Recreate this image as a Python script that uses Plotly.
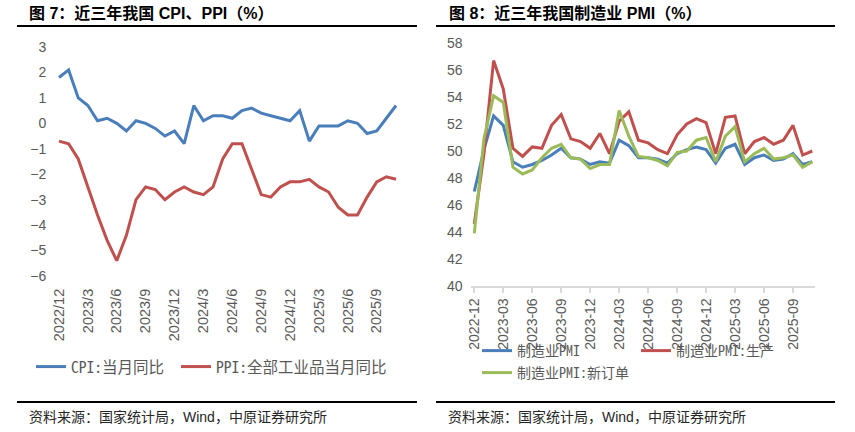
import plotly.graph_objects as go

W, H = 855, 432

months = ["2022-12", "2023-01", "2023-02", "2023-03", "2023-04", "2023-05", "2023-06",
          "2023-07", "2023-08", "2023-09", "2023-10", "2023-11", "2023-12",
          "2024-01", "2024-02", "2024-03", "2024-04", "2024-05", "2024-06",
          "2024-07", "2024-08", "2024-09", "2024-10", "2024-11", "2024-12",
          "2025-01", "2025-02", "2025-03", "2025-04", "2025-05", "2025-06",
          "2025-07", "2025-08", "2025-09", "2025-10", "2025-11"]

cpi = [1.8, 2.1, 1.0, 0.7, 0.1, 0.2, 0.0, -0.3, 0.1, 0.0, -0.2, -0.5, -0.3,
       -0.8, 0.7, 0.1, 0.3, 0.3, 0.2, 0.5, 0.6, 0.4, 0.3, 0.2, 0.1,
       0.5, -0.7, -0.1, -0.1, -0.1, 0.1, 0.0, -0.4, -0.3, 0.2, 0.7]
ppi = [-0.7, -0.8, -1.4, -2.5, -3.6, -4.6, -5.4, -4.4, -3.0, -2.5, -2.6, -3.0, -2.7,
       -2.5, -2.7, -2.8, -2.5, -1.4, -0.8, -0.8, -1.8, -2.8, -2.9, -2.5, -2.3,
       -2.3, -2.2, -2.5, -2.7, -3.3, -3.6, -3.6, -2.9, -2.3, -2.1, -2.2]

pmi = [47.0, 50.1, 52.6, 51.9, 49.2, 48.8, 49.0, 49.3, 49.7, 50.2, 49.5, 49.4, 49.0,
       49.2, 49.1, 50.8, 50.4, 49.5, 49.5, 49.4, 49.1, 49.8, 50.1, 50.3, 50.1,
       49.1, 50.2, 50.5, 49.0, 49.5, 49.7, 49.3, 49.4, 49.8, 49.0, 49.2]
pmi_prod = [44.6, 49.8, 56.7, 54.6, 50.2, 49.6, 50.3, 50.2, 51.9, 52.7, 50.9, 50.7, 50.2,
            51.3, 49.8, 52.2, 52.9, 50.8, 50.6, 50.1, 49.8, 51.2, 52.0, 52.4, 52.1,
            49.8, 52.5, 52.6, 49.8, 50.7, 51.0, 50.5, 50.8, 51.9, 49.7, 50.0]
pmi_new = [43.9, 50.9, 54.1, 53.6, 48.8, 48.3, 48.6, 49.5, 50.2, 50.5, 49.5, 49.4, 48.7,
           49.0, 49.0, 53.0, 51.1, 49.6, 49.5, 49.3, 48.9, 49.9, 50.0, 50.8, 51.0,
           49.2, 51.1, 51.8, 49.2, 49.8, 50.2, 49.4, 49.5, 49.7, 48.8, 49.2]

tick_months = ["2022-12", "2023-03", "2023-06", "2023-09", "2023-12", "2024-03",
               "2024-06", "2024-09", "2024-12", "2025-03", "2025-06", "2025-09"]
left_ticktext = ["2022/12", "2023/3", "2023/6", "2023/9", "2023/12", "2024/3",
                 "2024/6", "2024/9", "2024/12", "2025/3", "2025/6", "2025/9"]
right_ticktext = ["2022-12", "2023-03", "2023-06", "2023-09", "2023-12", "2024-03",
                  "2024-06", "2024-09", "2024-12", "2025-03", "2025-06", "2025-09"]

left_title = "图 7：近三年我国 CPI、PPI（%）"
right_title = "图 8：近三年我国制造业 PMI（%）"
source_text = "资料来源：国家统计局，Wind，中原证券研究所"

BLUE = "#4a7ebb"
RED = "#c0504d"
GREEN = "#9bbb59"
GRAY = "#595959"
AXIS = "#d9d9d9"

TICK_FONT = dict(family="Liberation Sans, Arial, sans-serif", size=14, color=GRAY)
LEG_FAMILY = "Noto Sans Mono CJK SC, Noto Sans CJK SC, monospace"


def px(x):
    return x / W


def py(y):
    return 1 - y / H


n = len(months)
pad = 0.3
L_dom = [px(56.1), px(398.9)]
L_ydom = [py(276), py(47)]
R_dom = [px(471.4), px(815.2)]
R_ydom = [py(286), py(43)]
xr = [-pad, n - 1 + pad]

fig = go.Figure()

fig.add_trace(go.Scatter(x=months, y=cpi, mode="lines", name="CPI:当月同比",
                         line=dict(color=BLUE, width=3), xaxis="x", yaxis="y",
                         legend="legend"))
fig.add_trace(go.Scatter(x=months, y=ppi, mode="lines", name="PPI:全部工业品当月同比",
                         line=dict(color=RED, width=3), xaxis="x", yaxis="y",
                         legend="legend2"))
fig.add_trace(go.Scatter(x=months, y=pmi, mode="lines", name="制造业PMI",
                         line=dict(color=BLUE, width=3), xaxis="x2", yaxis="y2",
                         legend="legend3"))
fig.add_trace(go.Scatter(x=months, y=pmi_prod, mode="lines", name="制造业PMI:生产",
                         line=dict(color=RED, width=3), xaxis="x2", yaxis="y2",
                         legend="legend4"))
fig.add_trace(go.Scatter(x=months, y=pmi_new, mode="lines", name="制造业PMI:新订单",
                         line=dict(color=GREEN, width=3), xaxis="x2", yaxis="y2",
                         legend="legend5"))

# zero-line axis position for left chart
ymin_l, ymax_l = -6, 3
zero_pos = L_ydom[0] + (0 - ymin_l) / (ymax_l - ymin_l) * (L_ydom[1] - L_ydom[0])


def legend_cfg(xpix, ypix, size):
    return dict(x=px(xpix - 5), y=py(ypix), xanchor="left", yanchor="middle",
                orientation="h", font=dict(family=LEG_FAMILY, size=size, color=GRAY),
                bgcolor="rgba(0,0,0,0)", borderwidth=0, itemwidth=30)


fig.update_layout(
    width=W, height=H,
    margin=dict(l=0, r=0, t=0, b=0, pad=0, autoexpand=False),
    paper_bgcolor="white", plot_bgcolor="white",
    showlegend=True,
    xaxis=dict(domain=L_dom, anchor="y", type="category", categoryorder="array",
               categoryarray=months, range=xr, automargin=False,
               tickmode="array", tickvals=tick_months, ticktext=left_ticktext,
               tickangle=-90, tickfont=dict(TICK_FONT, size=14.5), showline=False,
               showgrid=False, zeroline=False, ticks="outside", ticklen=6,
               tickcolor="rgba(0,0,0,0)"),
    xaxis3=dict(overlaying="x", anchor="free", position=zero_pos, type="category",
                categoryorder="array", categoryarray=months, range=xr, automargin=False,
                tickmode="array", tickvals=tick_months, showticklabels=False,
                showline=True, linecolor=AXIS, linewidth=1.5, ticks="outside",
                ticklen=5, tickcolor=AXIS, tickwidth=1.5, showgrid=False,
                zeroline=False),
    yaxis=dict(domain=L_ydom, anchor="x", range=[ymin_l, ymax_l], tickmode="linear",
               tick0=0, dtick=1, tickfont=TICK_FONT, showgrid=False, automargin=False,
               zeroline=False, showline=False, ticks="outside", ticklen=6,
               tickcolor="rgba(0,0,0,0)"),
    xaxis2=dict(domain=R_dom, anchor="y2", type="category", categoryorder="array",
                categoryarray=months, range=xr, automargin=False,
                tickmode="array", tickvals=tick_months, ticktext=right_ticktext,
                tickangle=-90, tickfont=TICK_FONT, showline=True, linecolor=AXIS,
                linewidth=1.5, showgrid=False, zeroline=False, ticks="outside",
                ticklen=5, tickcolor=AXIS, tickwidth=1.5),
    yaxis2=dict(domain=R_ydom, anchor="x2", range=[40, 58], tickmode="linear",
                tick0=40, dtick=2, tickfont=TICK_FONT, showgrid=False, automargin=False,
                zeroline=False, showline=False, ticks="outside", ticklen=5,
                tickcolor="rgba(0,0,0,0)"),
    legend=legend_cfg(36, 367, 15.5),
    legend2=legend_cfg(181, 367, 15.5),
    legend3=legend_cfg(482, 351, 14),
    legend4=legend_cfg(641, 351, 14),
    legend5=legend_cfg(482, 373, 14),
)

TITLE_FONT = dict(family="Liberation Sans, Noto Sans CJK SC, sans-serif", size=16,
                  color="black")
SRC_FONT = dict(family="Liberation Sans, Noto Sans CJK SC, sans-serif", size=14,
                color="#262626")

for xt, txt in [(27, left_title), (447, right_title)]:
    fig.add_annotation(x=px(xt), y=py(13), xref="paper", yref="paper", text="<b>" + txt + "</b>",
                       showarrow=False, xanchor="left", yanchor="middle", font=TITLE_FONT)
for xs in [27, 446]:
    fig.add_annotation(x=px(xs), y=py(417), xref="paper", yref="paper", text=source_text,
                       showarrow=False, xanchor="left", yanchor="middle", font=SRC_FONT)

for x0, x1 in [(17, 417), (436, 835)]:
    for yy in [26, 402]:
        fig.add_shape(type="line", xref="paper", yref="paper", x0=px(x0), x1=px(x1),
                      y0=py(yy), y1=py(yy), line=dict(color="black", width=2))

fig.write_html("out.html",
               config={"displayModeBar": False},
               post_script="document.body.style.margin='0';document.body.style.overflow='hidden';")
